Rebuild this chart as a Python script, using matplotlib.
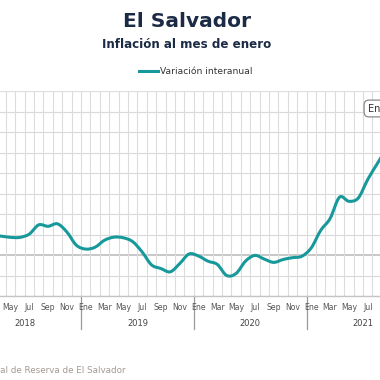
import numpy as np
import pandas as pd
import matplotlib
matplotlib.use("Agg")
import matplotlib.pyplot as plt
from matplotlib.path import Path
from matplotlib.patches import PathPatch
from matplotlib.lines import Line2D
from matplotlib.transforms import blended_transform_factory

# ---- data ----
start_month = "2018-03"
values = [0.95, 0.92, 0.86, 0.86, 1.02, 1.47, 1.40, 1.52, 1.12, 0.48,
          0.29, 0.38, 0.72, 0.87, 0.84, 0.65, 0.15, -0.48, -0.66, -0.82,
          -0.42, 0.05, -0.05, -0.3, -0.46, -1.0, -0.9, -0.3, -0.02, -0.2,
          -0.36, -0.22, -0.13, -0.06, 0.35, 1.2, 1.78, 2.82, 2.62, 2.78,
          3.68, 4.44, 5.2]
month_abbr = ["Ene", "Feb", "Mar", "Abr", "May", "Jun", "Jul", "Ago", "Sep", "Oct", "Nov", "Dic"]
years = [2018, 2019, 2020, 2021]
title = "El Salvador"
subtitle = "Inflación al mes de enero"
series_name = "Variación interanual"
source = "Fuente: Banco Central de Reserva de El Salvador"
flag_text = "Ene 2022"

months = pd.period_range(start_month, periods=len(values), freq="M")
idx = np.array([(m.year - 2018) * 12 + (m.month - 1) for m in months], dtype=float)
vals = np.array(values)

W = H = 380
fig = plt.figure(figsize=(3.8, 3.8), dpi=100)
fig.patch.set_facecolor("white")

top_px, bot_px = 91, 296
ax = fig.add_axes([0, 1 - bot_px / H, 1, (bot_px - top_px) / H])

# grid
for y in range(-2, 9):
    if y == 0:
        continue
    ax.axhline(y, color="#d9d9d9", lw=0.8, zorder=1)
ax.axhline(0, color="#bdbdbd", lw=1.2, zorder=1)
for b in np.arange(-0.5, 48, 1.0):
    ax.axvline(b, color="#dcdcdc", lw=0.8, zorder=1)

# smooth line (Catmull-Rom -> cubic Bezier in data coords)
pts = np.column_stack([idx, vals])
verts = [pts[0]]
codes = [Path.MOVETO]
n = len(pts)
for k in range(n - 1):
    p0 = pts[k - 1] if k > 0 else pts[k]
    p1 = pts[k]
    p2 = pts[k + 1]
    p3 = pts[k + 2] if k + 2 < n else pts[k + 1]
    c1 = p1 + (p2 - p0) / 6.0
    c2 = p2 - (p3 - p1) / 6.0
    verts += [c1, c2, p2]
    codes += [Path.CURVE4] * 3
line_color = "#17999b"
patch = PathPatch(Path(verts, codes), facecolor="none", edgecolor=line_color,
                  lw=2.2, zorder=3, capstyle="round", joinstyle="round")
ax.add_patch(patch)

# spines
for s in ["left", "right"]:
    ax.spines[s].set_visible(False)
ax.spines["top"].set_color("#e0e0e0")
ax.spines["top"].set_linewidth(0.8)
ax.spines["bottom"].set_color("#c4c4c4")
ax.spines["bottom"].set_linewidth(1.0)
ax.set_yticks([])
ax.set_xticks([])

trans = blended_transform_factory(ax.transData, ax.transAxes)
axh = bot_px - top_px
# month labels (every other month), drawn unclipped so partial labels show at edges
for t in np.arange(4, 48, 2):
    ax.text(t, -(307.5 - bot_px) / axh, month_abbr[int(t) % 12], transform=trans,
            ha="center", va="center", fontsize=5.6, color="#555555", clip_on=False)
for j, yr in enumerate(years):
    ax.text(j * 12 + 5.5, -(323.5 - bot_px) / axh, str(yr), transform=trans,
            ha="center", va="center", fontsize=6, color="#444444", clip_on=False)
for b in [11.5, 23.5, 35.5]:
    ax.plot([b, b], [0, -(329 - bot_px) / axh], transform=trans, color="#9a9a9a",
            lw=0.9, clip_on=False, zorder=2)
ax.set_xlim(2.883, 43.31)
ax.set_ylim(-2, 8)

# titles
fig.text(0.492, 1 - 21.5 / H, title, ha="center", va="center", fontsize=14.5,
         fontweight="bold", color="#1c2b45")
fig.text(0.49, 1 - 44.5 / H, subtitle, ha="center", va="center", fontsize=8.6,
         fontweight="bold", color="#1c2b45")

# legend
h = Line2D([], [], color=line_color, lw=2.2)
fig.legend([h], [series_name], loc="center", bbox_to_anchor=(0.515, 1 - 72 / H),
           frameon=False, fontsize=6.6, handlelength=2.1, handletextpad=0.15,
           labelcolor="#333333")

# flag box at right
fig.text(367.5 / W, 1 - 108.5 / H, flag_text, ha="left", va="center", fontsize=7,
         color="#333333",
         bbox=dict(boxstyle="round,pad=0.35,rounding_size=0.5", fc="white",
                   ec="#8a8a8a", lw=0.9))

# source
fig.text(126 / W, 1 - 370.5 / H, source, ha="right", va="center", fontsize=6.3,
         color="#a39a94")

fig.savefig("out.png", dpi=100, facecolor="white")
